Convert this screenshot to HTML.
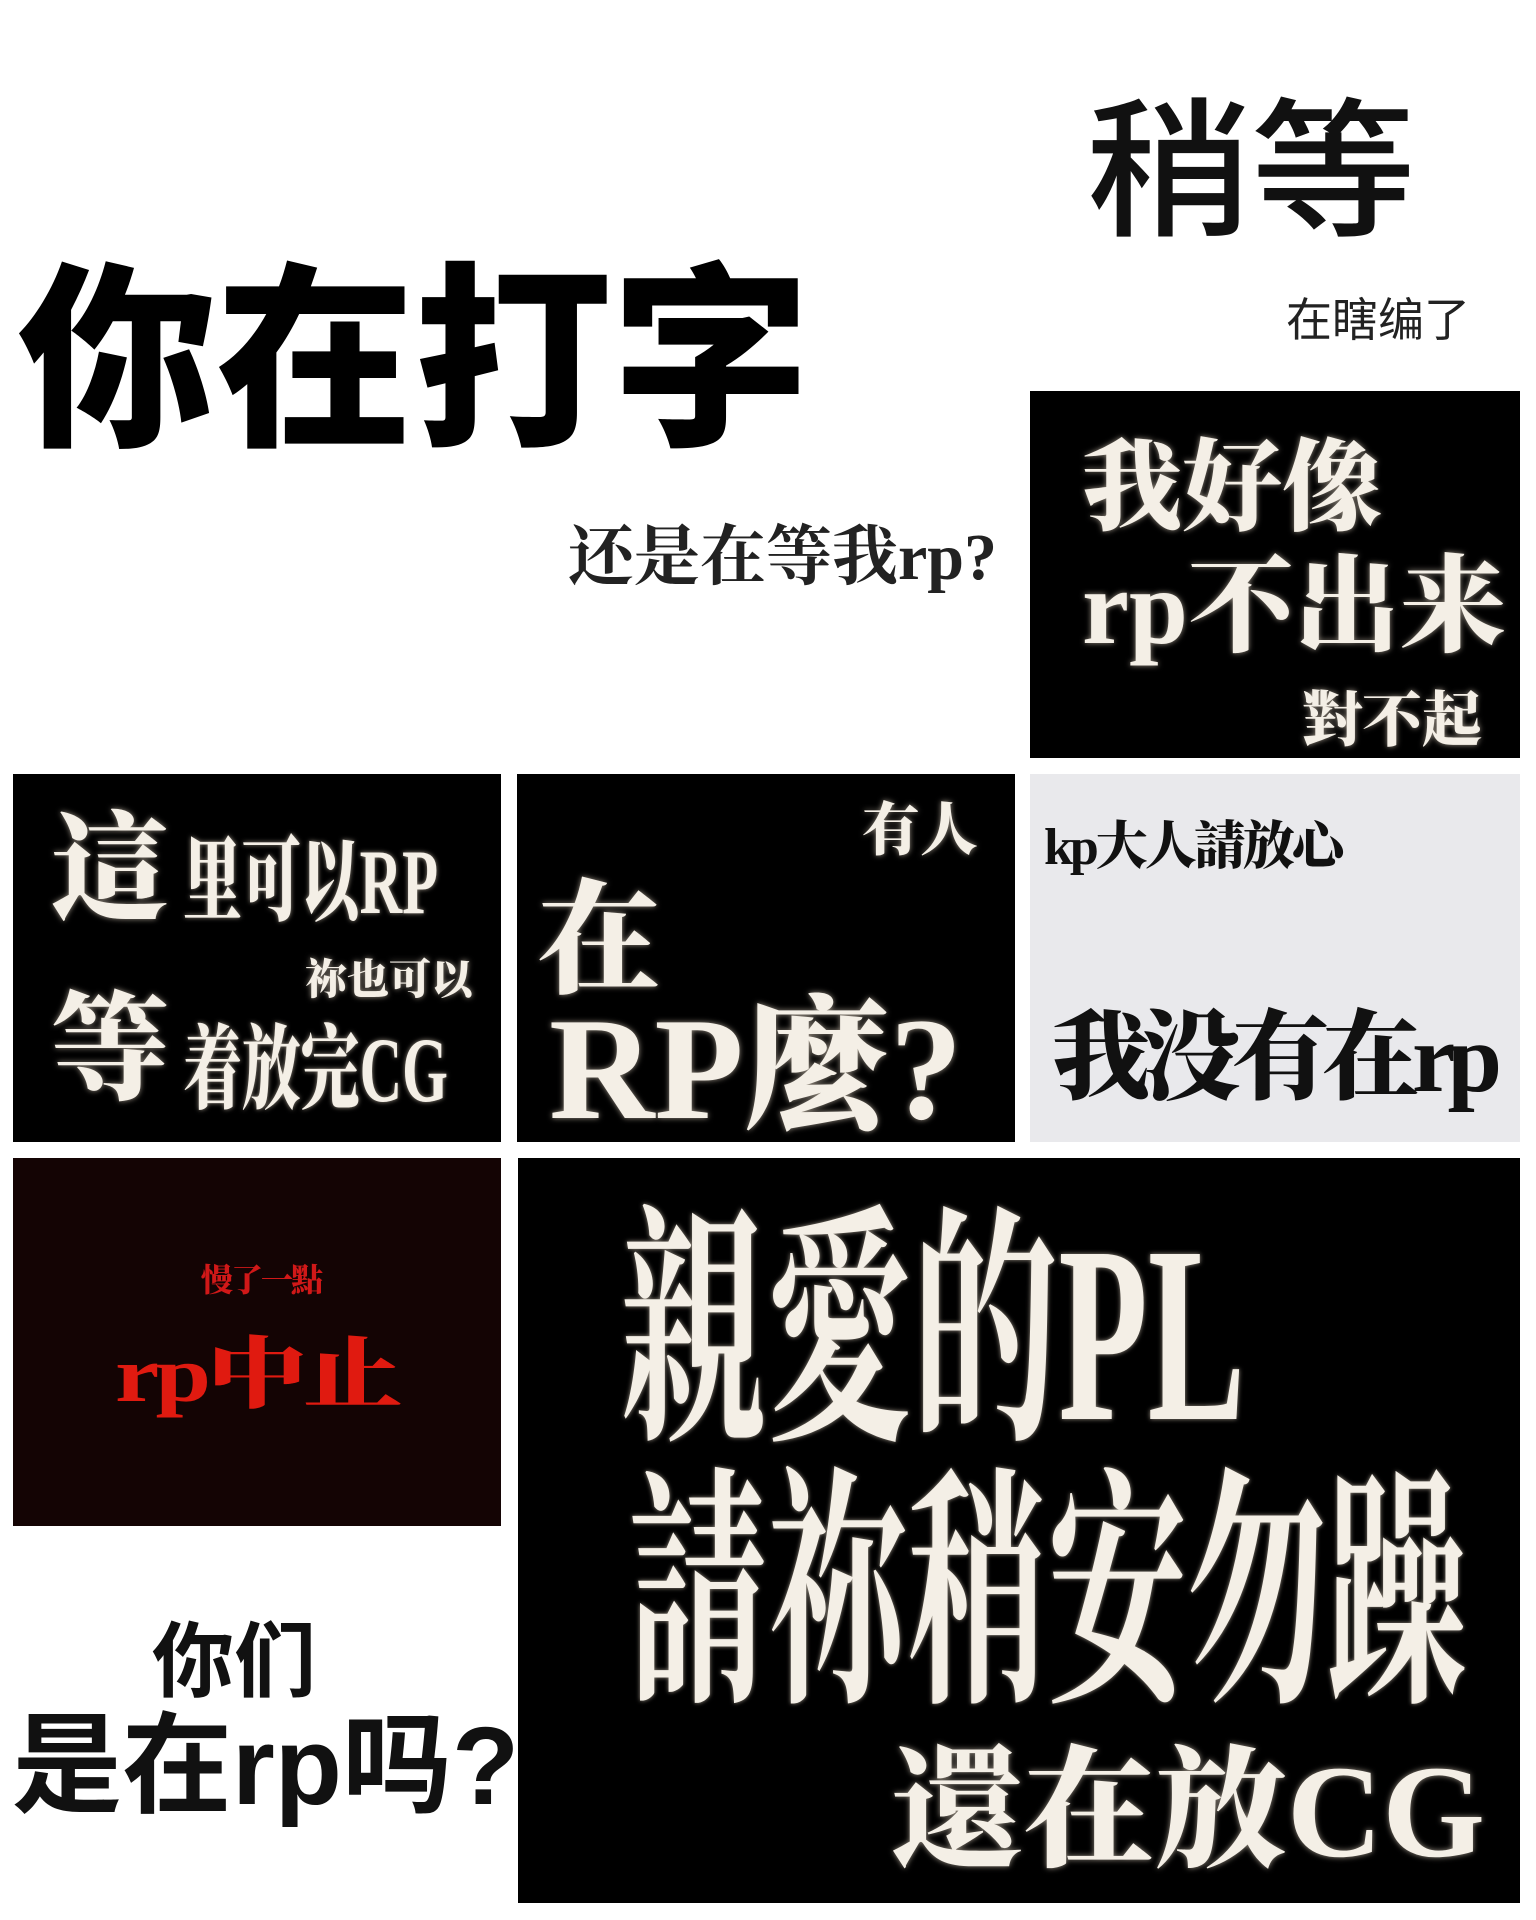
<!DOCTYPE html>
<html><head><meta charset="utf-8">
<style>
html,body{margin:0;padding:0;}
body{width:1536px;height:1920px;background:#fff;position:relative;overflow:hidden;}
.p{position:absolute;}
.t{position:absolute;line-height:1;white-space:nowrap;transform-origin:0 0;}
.sans{font-family:"Liberation Sans","Noto Sans CJK SC",sans-serif;}
.serif{font-family:"Liberation Serif","Noto Serif CJK SC",serif;font-weight:900;}
.glow{color:#f4efe6;text-shadow:0 0 6px rgba(255,240,220,.6);}
</style></head><body>
<div class="t sans" style="left:1086px;top:97px;font-size:150px;font-weight:500;color:#111;transform:scaleX(1.1);">稍等</div>
<div class="t sans" style="left:1286px;top:297px;font-size:46px;color:#222;">在瞎编了</div>
<div class="t sans" style="left:18px;top:263px;font-size:198px;font-weight:900;color:#000;">你在打字</div>
<div class="t serif" style="left:568px;top:525px;font-size:66px;font-weight:700;color:#222;">还是在等我rp?</div>

<div class="p" style="left:1030px;top:391px;width:490px;height:367px;background:#000;">
  <div class="t serif glow" style="left:52px;top:48px;font-size:100px;">我好像</div>
  <div class="t serif glow" style="left:52px;top:164px;font-size:106px;">rp不出来</div>
  <div class="t serif glow" style="left:272px;top:300px;font-size:60px;">對不起</div>
</div>

<div class="p" style="left:13px;top:774px;width:488px;height:368px;background:#000;">
  <div class="t serif glow" style="left:38px;top:38px;font-size:118px;">這</div>
  <div class="t serif glow" style="left:170px;top:62px;font-size:92px;transform:scaleX(.64);">里可以RP</div>
  <div class="t serif glow" style="left:292px;top:186px;font-size:42px;">祢也可以</div>
  <div class="t serif glow" style="left:38px;top:218px;font-size:118px;">等</div>
  <div class="t serif glow" style="left:170px;top:250px;font-size:92px;transform:scaleX(.64);">着放完CG</div>
</div>

<div class="p" style="left:517px;top:774px;width:498px;height:368px;background:#000;">
  <div class="t serif glow" style="left:345px;top:28px;font-size:58px;">有人</div>
  <div class="t serif glow" style="left:20px;top:106px;font-size:124px;">在</div>
  <div class="t serif glow" style="left:32px;top:222px;font-size:146px;">RP麼?</div>
</div>

<div class="p" style="left:1030px;top:774px;width:490px;height:368px;background:#e9e9ec;">
  <div class="t serif" style="left:14px;top:48px;font-size:52px;color:#111;letter-spacing:-3px;">kp大人請放心</div>
  <div class="t serif" style="left:22px;top:236px;font-size:98px;color:#111;letter-spacing:-8px;">我没有在rp</div>
</div>

<div class="p" style="left:13px;top:1158px;width:488px;height:368px;background:#140404;">
  <div class="t serif" style="left:188px;top:106px;font-size:32px;color:#d01818;letter-spacing:-2px;">慢了一點</div>
  <div class="t serif" style="left:102px;top:178px;font-size:78px;color:#e01a10;letter-spacing:-3px;transform:scaleX(1.28);">rp中止</div>
</div>

<div class="t sans" style="left:152px;top:1622px;font-size:82px;font-weight:700;color:#111;">你们</div>
<div class="t sans" style="left:12px;top:1712px;font-size:110px;font-weight:700;color:#111;">是在rp吗?</div>

<div class="p" style="left:518px;top:1158px;width:1002px;height:745px;background:#000;">
  <div class="t serif glow" style="left:102px;top:50px;font-size:252px;transform:scaleX(.58);font-weight:700;">親愛的PL</div>
  <div class="t serif glow" style="left:110px;top:312px;font-size:252px;transform:scaleX(.555);font-weight:700;">請祢稍安勿躁</div>
  <div class="t serif glow" style="left:373px;top:588px;font-size:132px;">還在放CG</div>
</div>
</body></html>
